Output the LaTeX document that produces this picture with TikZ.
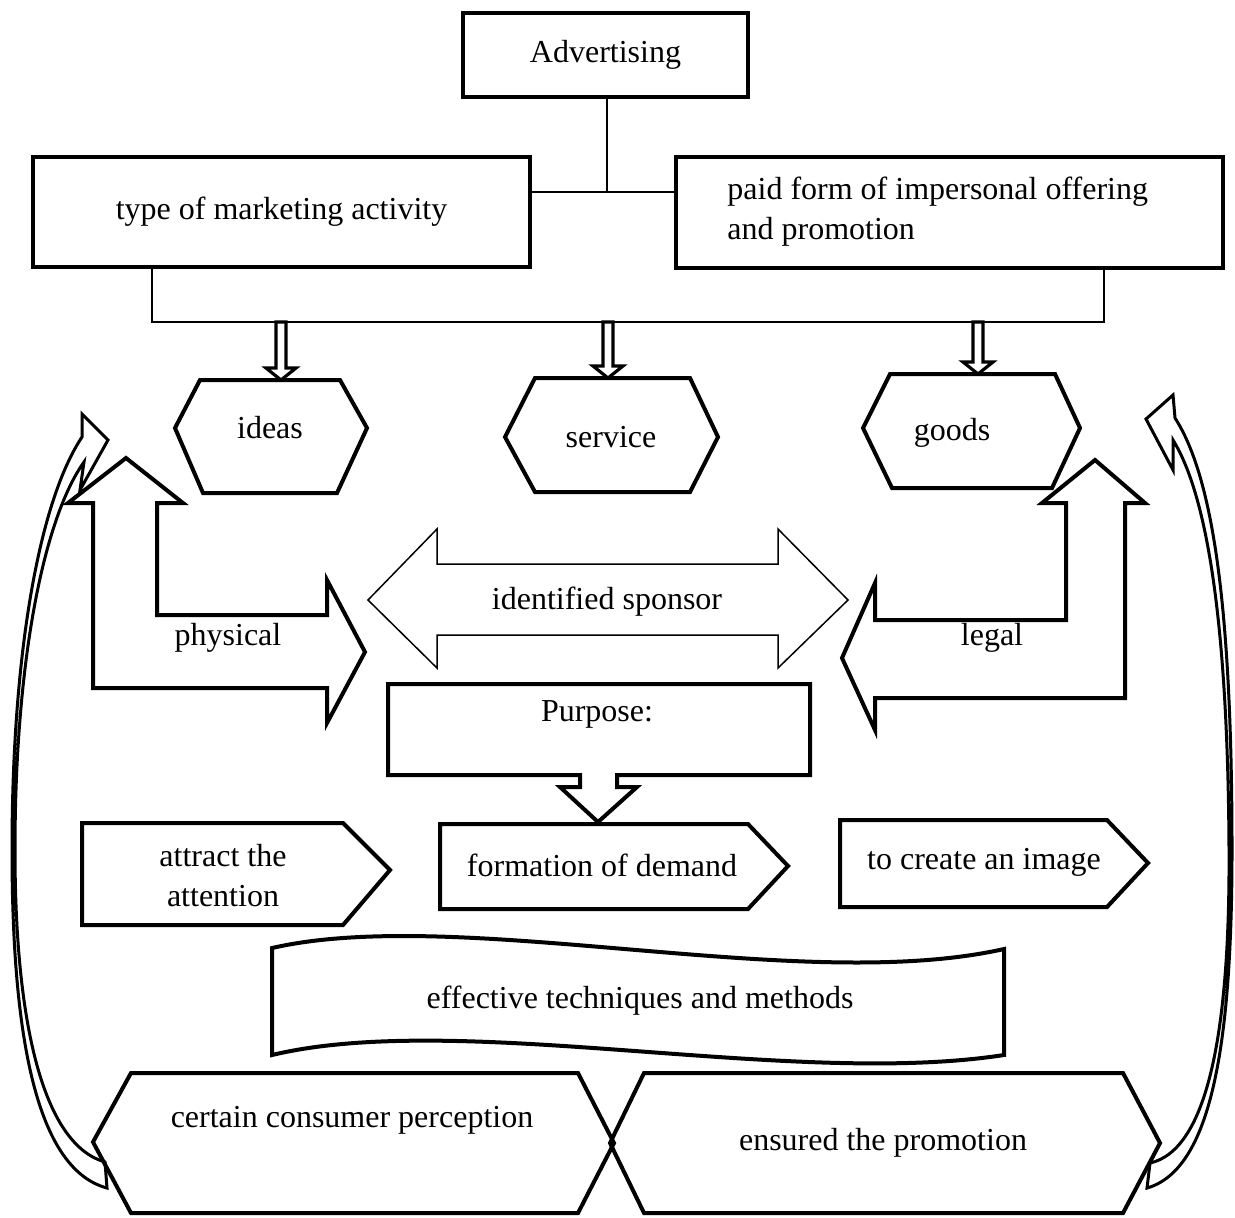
\documentclass[tikz,border=0pt]{standalone}
\usepackage{fontspec}
\setmainfont{Liberation Serif}
% hollow block arrow pointing down: #1 = centre x, #2 = top y, #3 = tip y
\newcommand{\downblock}[3]{%
  \draw[hollow] (#1-5,#2) -- (#1+5,#2) -- (#1+5,#3-12) -- (#1+15,#3-12)
    -- (#1,#3) -- (#1-15,#3-12) -- (#1-5,#3-12) -- cycle;}
\begin{document}
\begin{tikzpicture}[x=0.5pt,y=-0.5pt,
  heavy/.style={line width=2pt, line join=miter},
  light/.style={line width=0.75pt},
  lbl/.style={font=\fontsize{16}{20}\selectfont, inner sep=0pt, align=center},
  boxst/.style={draw, line width=2pt, rectangle, inner sep=0pt},
  band/.style={line width=1.5pt, line join=miter, fill=white},
  hollow/.style={line width=1.6pt, fill=white, line join=miter}
]
\useasboundingbox (0,0) rectangle (1235,1217);

% --- top tree ---
\node[boxst, lbl, minimum width=142.5pt, minimum height=42pt] (adv) at (605.5,55) {Advertising};
\node[boxst, lbl, minimum width=248.5pt, minimum height=55pt] (type) at (281.5,212) {type of marketing activity};
\node[boxst, minimum width=273.5pt, minimum height=55.5pt] (paid) at (949.5,212.5) {};
\node[lbl, anchor=west, align=left] (paidtxt) at (727,212) {paid form of impersonal offering\\and promotion};

\coordinate (tee) at (607,192);
\draw[light] (adv.south -| tee) -- (tee);
\draw[light] (type.east |- tee) -- (paid.west |- tee);
\coordinate (busL) at (152,322);
\coordinate (busR) at (1104,322);
\draw[light] (type.south -| busL) -- (busL) -- (busR) -- (paid.south -| busR);

% --- curved side bands ---
\draw[band] (107,1188) .. controls (40,1170) and (12,1050) .. (12,850)
  .. controls (12,650) and (40,500) .. (82,437)
  -- (82,414) -- (108,440) -- (80,490) -- (84,462)
  .. controls (44,518) and (15,660) .. (15,850)
  .. controls (15,1030) and (45,1145) .. (105,1162) -- cycle;
\draw[band] (1147,1188) .. controls (1210,1170) and (1232,1050) .. (1232,850)
  .. controls (1232,620) and (1215,480) .. (1175,418)
  -- (1173,395) -- (1146,419) -- (1173,470) -- (1173,440)
  .. controls (1210,500) and (1228,640) .. (1229,850)
  .. controls (1230,1030) and (1208,1150) .. (1150,1163) -- cycle;

% --- hexagons of the second row ---
\draw[heavy] (200,380) -- (340,380) -- (367,428) -- (337,493) -- (203,493) -- (175,428) -- cycle;
\node[lbl] (ideas) at (270,428) {ideas};
\draw[heavy] (535,378) -- (690,378) -- (718,437) -- (690,492) -- (535,492) -- (505,437) -- cycle;
\node[lbl] (service) at (611,437) {service};
\draw[heavy] (890,374) -- (1055,374) -- (1080,428) -- (1052,488) -- (892,488) -- (863,428) -- cycle;
\node[lbl] (goods) at (952,433) {goods};

\downblock{281}{322}{380}
\downblock{608}{322}{378}
\downblock{978}{322}{374}

% --- bent arrows ---
\draw[heavy, fill=white] (93,503) -- (68,503) -- (126,458) -- (183,503) -- (157,503)
  -- (157,615) -- (327,615) -- (327,580) -- (365,652) -- (327,723) -- (327,688) -- (93,688) -- cycle;
\node[lbl] (physical) at (228,638) {physical};
\draw[heavy, fill=white] (1125,503) -- (1145,503) -- (1095,460) -- (1042,503) -- (1066,503)
  -- (1066,620) -- (875,620) -- (875,583) -- (842,658) -- (875,730) -- (875,698) -- (1125,698) -- cycle;
\node[lbl] (legal) at (992,638) {legal};

% --- double arrow ---
\draw[light, fill=white] (368,600) -- (437,529) -- (437,564) -- (778,564) -- (778,529) -- (848,600)
  -- (778,668) -- (778,635) -- (437,635) -- (437,668) -- cycle;
\node[lbl] (sponsor) at (607,602) {identified sponsor};

% --- purpose callout ---
\draw[heavy] (388,684) -- (810,684) -- (810,775) -- (617,775) -- (617,787) -- (637,787) -- (598,822)
  -- (560,787) -- (580,787) -- (580,775) -- (388,775) -- cycle;
\node[lbl] (purpose) at (597,714) {Purpose:};

% --- pentagons ---
\draw[heavy] (82,823) -- (343,823) -- (390,870) -- (343,925) -- (82,925) -- cycle;
\node[lbl] (attract) at (223,876) {attract the\\attention};
\draw[heavy] (440,824) -- (748,824) -- (788,866) -- (748,909) -- (440,909) -- cycle;
\node[lbl] (demand) at (602,865) {formation of demand};
\draw[heavy] (840,820) -- (1107,820) -- (1148,863) -- (1107,907) -- (840,907) -- cycle;
\node[lbl] (image) at (984,862) {to create an image};

% --- wave banner ---
\draw[heavy] (272,948) .. controls (460,905) and (800,995) .. (1004,949) -- (1004,1055)
  .. controls (790,1088) and (460,1010) .. (272,1055) -- cycle;
\node[lbl] (effective) at (640,1001) {effective techniques and methods};

% --- bottom hexagons ---
\draw[heavy] (131,1073) -- (578,1073) -- (614,1143) -- (578,1213) -- (131,1213) -- (93,1142) -- cycle;
\node[lbl] (certain) at (352,1120) {certain consumer perception};
\draw[heavy] (644,1073) -- (1123,1073) -- (1160,1143) -- (1123,1213) -- (644,1213) -- (610,1143) -- cycle;
\node[lbl] (ensured) at (883,1143) {ensured the promotion};
\end{tikzpicture}
\end{document}
